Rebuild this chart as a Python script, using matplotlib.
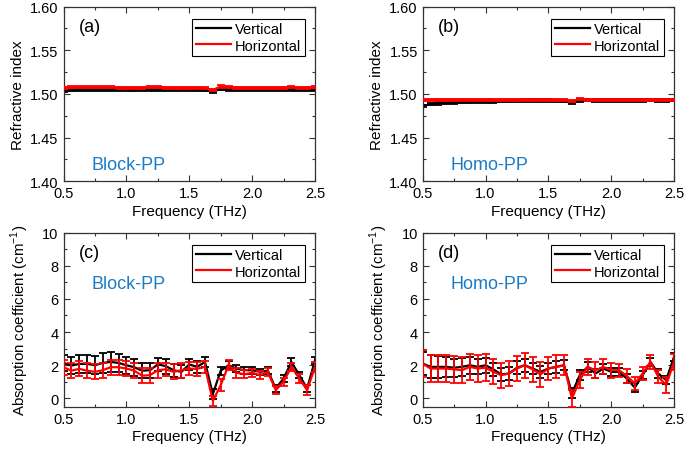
import numpy as np
import matplotlib
matplotlib.use("Agg")
import matplotlib.pyplot as plt
from matplotlib.lines import Line2D
from matplotlib.ticker import MultipleLocator

plt.rcParams['font.family'] = ['Liberation Sans', 'DejaVu Sans']
plt.rcParams['mathtext.fontset'] = 'custom'
plt.rcParams['mathtext.rm'] = 'Liberation Sans'

# frequency grid (THz)
freq = [0.5, 0.5625, 0.625, 0.6875, 0.75, 0.8125, 0.875, 0.9375, 1.0, 1.0625, 1.125,
        1.1875, 1.25, 1.3125, 1.375, 1.4375, 1.5, 1.5625, 1.625, 1.6875, 1.75,
        1.8125, 1.875, 1.9375, 2.0, 2.0625, 2.125, 2.1875, 2.25, 2.3125, 2.375,
        2.4375, 2.5]

# (a) Block-PP refractive index
n_block_v = [1.5030, 1.5040, 1.5045, 1.5045, 1.5045, 1.5045, 1.5045, 1.5045, 1.5045,
             1.5040, 1.5045, 1.5045, 1.5045, 1.5045, 1.5042, 1.5045, 1.5045, 1.5042,
             1.5040, 1.5028, 1.5055, 1.5050, 1.5045, 1.5045, 1.5045, 1.5045, 1.5045,
             1.5045, 1.5045, 1.5045, 1.5045, 1.5045, 1.5048]
n_block_h = [1.5072, 1.5075, 1.5075, 1.5075, 1.5075, 1.5075, 1.5075, 1.5072, 1.5072,
             1.5070, 1.5072, 1.5075, 1.5075, 1.5072, 1.5072, 1.5072, 1.5072, 1.5070,
             1.5065, 1.5045, 1.5085, 1.5078, 1.5072, 1.5072, 1.5072, 1.5072, 1.5072,
             1.5072, 1.5072, 1.5075, 1.5072, 1.5072, 1.5075]
n_block_err = [0.0012] * 33

# (b) Homo-PP refractive index
n_homo_v = [1.4865, 1.4880, 1.4890, 1.4895, 1.4900, 1.4905, 1.4905, 1.4910, 1.4910,
            1.4910, 1.4915, 1.4920, 1.4920, 1.4925, 1.4925, 1.4925, 1.4925, 1.4920,
            1.4915, 1.4900, 1.4925, 1.4930, 1.4925, 1.4925, 1.4925, 1.4925, 1.4925,
            1.4925, 1.4925, 1.4928, 1.4925, 1.4925, 1.4928]
n_homo_h = [1.4935, 1.4935, 1.4935, 1.4935, 1.4935, 1.4935, 1.4935, 1.4935, 1.4935,
            1.4932, 1.4932, 1.4935, 1.4935, 1.4935, 1.4932, 1.4932, 1.4932, 1.4932,
            1.4930, 1.4918, 1.4940, 1.4935, 1.4932, 1.4932, 1.4932, 1.4932, 1.4932,
            1.4932, 1.4932, 1.4935, 1.4932, 1.4932, 1.4935]
n_homo_err = [0.0012] * 33

# (c) Block-PP absorption coefficient (cm^-1)
a_block_v = [2.14, 1.98, 2.08, 2.08, 2.00, 2.14, 2.20, 2.14, 2.00, 1.88, 1.67,
             1.70, 2.05, 1.95, 1.70, 1.60, 2.05, 1.90, 2.20, 0.26, 1.67,
             2.00, 1.80, 1.70, 1.70, 1.60, 1.67, 0.60, 1.20, 2.20, 1.40,
             0.60, 2.30]
a_block_h = [1.88, 1.67, 1.78, 1.67, 1.60, 1.70, 1.88, 1.88, 1.80, 1.67, 1.37,
             1.40, 1.70, 1.75, 1.60, 1.70, 1.80, 1.78, 1.90, -0.15, 0.80,
             2.00, 1.55, 1.45, 1.55, 1.40, 1.60, 0.50, 1.00, 1.90, 1.20,
             0.50, 1.90]
a_block_v_err = [0.50, 0.50, 0.55, 0.55, 0.55, 0.60, 0.60, 0.55, 0.50, 0.50, 0.45,
                 0.45, 0.40, 0.45, 0.40, 0.40, 0.35, 0.35, 0.30, 0.30, 0.25,
                 0.25, 0.20, 0.20, 0.20, 0.20, 0.20, 0.20, 0.20, 0.25, 0.20,
                 0.20, 0.20]
a_block_h_err = [0.45, 0.45, 0.45, 0.45, 0.45, 0.45, 0.45, 0.45, 0.45, 0.45, 0.45,
                 0.45, 0.45, 0.40, 0.45, 0.45, 0.40, 0.40, 0.35, 0.30, 0.35,
                 0.30, 0.30, 0.25, 0.25, 0.25, 0.25, 0.25, 0.25, 0.25, 0.25,
                 0.30, 0.30]

# (d) Homo-PP absorption coefficient (cm^-1)
a_homo_v = [2.10, 1.90, 1.90, 1.90, 1.85, 1.90, 2.00, 1.90, 2.00, 1.75, 1.45,
            1.50, 1.85, 2.00, 1.80, 1.60, 1.80, 1.90, 2.00, 0.30, 1.40,
            1.90, 1.50, 1.80, 1.60, 1.60, 1.20, 0.65, 1.40, 2.20, 1.50,
            1.10, 2.50]
a_homo_h = [2.10, 1.80, 1.80, 1.80, 1.75, 1.70, 1.90, 1.80, 1.85, 1.60, 1.40,
            1.50, 1.80, 2.00, 1.75, 1.45, 1.80, 1.90, 2.00, 0.00, 1.10,
            1.90, 1.70, 1.90, 1.70, 1.70, 1.35, 0.90, 1.50, 2.20, 1.30,
            0.80, 2.20]
a_homo_v_err = [0.70, 0.70, 0.65, 0.60, 0.55, 0.55, 0.50, 0.45, 0.45, 0.40, 0.40,
                0.40, 0.40, 0.40, 0.35, 0.35, 0.35, 0.35, 0.30, 0.30, 0.30,
                0.30, 0.30, 0.30, 0.25, 0.25, 0.25, 0.25, 0.25, 0.25, 0.25,
                0.25, 0.25]
a_homo_h_err = [0.80, 0.80, 0.80, 0.80, 0.80, 0.80, 0.80, 0.80, 0.80, 0.75, 0.75,
                0.75, 0.75, 0.75, 0.75, 0.75, 0.70, 0.70, 0.60, 0.50, 0.50,
                0.50, 0.50, 0.45, 0.45, 0.40, 0.40, 0.40, 0.40, 0.40, 0.40,
                0.50, 0.50]

panel_letters = ['(a)', '(b)', '(c)', '(d)']
sample_names = ['Block-PP', 'Homo-PP', 'Block-PP', 'Homo-PP']
legend_labels = ['Vertical', 'Horizontal']
x_label = 'Frequency (THz)'
y_label_n = 'Refractive index'
y_label_a = 'Absorption coefficient (cm$^{-1}$)'

blue = '#1a7cc6'
fig = plt.figure(figsize=(6.85, 4.52), dpi=100)
W, H = 685, 452

def axes_px(l, t, r, b):
    return fig.add_axes([l / W, 1 - b / H, (r - l) / W, (b - t) / H])

ax_a = axes_px(63.5, 7.5, 315, 182.3)
ax_b = axes_px(422.7, 7.5, 674, 182.3)
ax_c = axes_px(63.5, 233.5, 315, 407.7)
ax_d = axes_px(422.7, 233.5, 674, 407.7)

datasets = [
    (ax_a, n_block_v, n_block_err, n_block_h, n_block_err),
    (ax_b, n_homo_v, n_homo_err, n_homo_h, n_homo_err),
    (ax_c, a_block_v, a_block_v_err, a_block_h, a_block_h_err),
    (ax_d, a_homo_v, a_homo_v_err, a_homo_h, a_homo_h_err),
]

for i, (ax, yv, ev, yh, eh) in enumerate(datasets):
    ax.errorbar(freq, yv, yerr=ev, color='black', lw=1.6, elinewidth=1.3,
                capsize=3, capthick=1.3, zorder=2)
    ax.errorbar(freq, yh, yerr=eh, color='red', lw=1.6, elinewidth=1.3,
                capsize=3, capthick=1.3, zorder=3)
    ax.set_xlim(0.5, 2.5)
    ax.xaxis.set_major_locator(MultipleLocator(0.5))
    ax.xaxis.set_minor_locator(MultipleLocator(0.25))
    ax.xaxis.set_major_formatter(matplotlib.ticker.FormatStrFormatter('%.1f'))
    if i < 2:
        ax.set_ylim(1.40, 1.60)
        ax.yaxis.set_major_locator(MultipleLocator(0.05))
        ax.yaxis.set_minor_locator(MultipleLocator(0.025))
        ax.yaxis.set_major_formatter(matplotlib.ticker.FormatStrFormatter('%.2f'))
        ax.set_ylabel(y_label_n, fontsize=11, labelpad=4)
        ax.text(0.11, 0.05, sample_names[i], transform=ax.transAxes, color=blue,
                fontsize=13, ha='left', va='bottom')
    else:
        ax.set_ylim(-0.5, 10)
        ax.yaxis.set_major_locator(MultipleLocator(2))
        ax.yaxis.set_minor_locator(MultipleLocator(1))
        ax.set_ylabel(y_label_a, fontsize=10.8, labelpad=8)
        ax.text(0.11, 0.71, sample_names[i], transform=ax.transAxes, color=blue,
                fontsize=13, ha='left', va='center')
    ax.set_xlabel(x_label, fontsize=11, labelpad=2.5)
    ax.text(0.06, 0.885, panel_letters[i], transform=ax.transAxes, fontsize=13,
            ha='left', va='center')
    ax.tick_params(which='both', direction='in', top=True, right=True,
                   labelsize=10.5, width=0.8, color='#333333')
    ax.tick_params(which='major', length=4)
    ax.tick_params(which='minor', length=2.5)
    for s in ax.spines.values():
        s.set_linewidth(0.9)
        s.set_color('#333333')
    handles = [Line2D([], [], color='black', lw=1.6), Line2D([], [], color='red', lw=1.6)]
    leg = ax.legend(handles, legend_labels, loc='upper right',
                    bbox_to_anchor=(0.96, 0.93), fontsize=10.5, frameon=True,
                    fancybox=False, edgecolor='black', framealpha=1,
                    borderpad=0.25, labelspacing=0.15, handlelength=2.4,
                    handletextpad=0.3, borderaxespad=0)
    leg.get_frame().set_linewidth(0.8)

fig.savefig('out.png', dpi=100)
